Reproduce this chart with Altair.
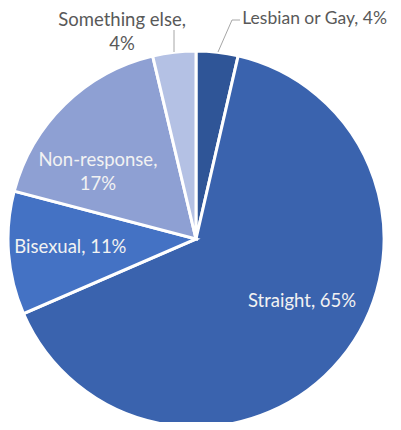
import altair as alt
import pandas as pd

categories = ["Lesbian or Gay", "Straight", "Bisexual", "Non-response", "Something else"]
shares = [3.6, 64.9, 10.6, 17.2, 3.7]
colors = ["#2F5597", "#3A63AE", "#4472C4", "#8EA0D3", "#B4C1E4"]
label_text = ["Lesbian or Gay, 4%", "Straight, 65%", "Bisexual, 11%",
              "Non-response,\n17%", "Something else,\n4%"]

df = pd.DataFrame({
    "category": categories,
    "share": shares,
    "order": list(range(len(categories))),
    "label": label_text,
})

CX, CY, R = 188, 231, 188
FONT = "Lato"

base = alt.Chart(df).encode(
    theta=alt.Theta("share:Q", stack=True),
    order=alt.Order("order:Q"),
)

pie = base.mark_arc(radius=R, stroke="white", strokeWidth=3).encode(
    color=alt.Color("category:N", scale=alt.Scale(domain=categories, range=colors), legend=None),
    x=alt.value(CX),
    y=alt.value(CY),
)

# per label style: (category, radius, dx, dy, color, align, size)
label_style = [
    ("Lesbian or Gay", 215, 22, -6, "#595959", "left", 17.5),
    ("Straight", 125, 10, -18, "#F2F2F2", "center", 18.5),
    ("Bisexual", 127, 1, -2, "#F2F2F2", "center", 18.5),
    ("Non-response", 119, -15, 6, "#F2F2F2", "center", 18.5),
    ("Something else", 215, -49, -5, "#595959", "center", 18.5),
]

texts = []
for i, (cat, rad, ddx, ddy, col, al, fs) in enumerate(label_style):
    t = base.transform_calculate(
        **{f"t{i}": f"datum.category == '{cat}' ? datum.label : ''"}
    ).mark_text(
        radius=rad, dx=ddx, dy=ddy, color=col, align=al, baseline="middle",
        font=FONT, fontSize=fs, lineBreak="\n", lineHeight=24,
    ).encode(
        text=alt.Text(f"t{i}:N"),
        x=alt.value(CX),
        y=alt.value(CY),
    )
    texts.append(t)

one = alt.Chart(pd.DataFrame({"a": [0]}))
leader_color = "#A6A6A6"
rules = [
    one.mark_rule(color=leader_color, strokeWidth=1).encode(
        x=alt.value(210), y=alt.value(44), x2=alt.value(224), y2=alt.value(12)),
    one.mark_rule(color=leader_color, strokeWidth=1).encode(
        x=alt.value(224), y=alt.value(12), x2=alt.value(232), y2=alt.value(12)),
    one.mark_rule(color=leader_color, strokeWidth=1).encode(
        x=alt.value(166), y=alt.value(22), x2=alt.value(166), y2=alt.value(44)),
]

chart = alt.layer(pie, *rules, *texts).properties(
    width=385, height=414, padding=0,
    autosize=alt.AutoSizeParams(type="none"),
).configure_view(stroke=None)

chart.save("out.html", embed_options={"renderer": "svg", "actions": False})
